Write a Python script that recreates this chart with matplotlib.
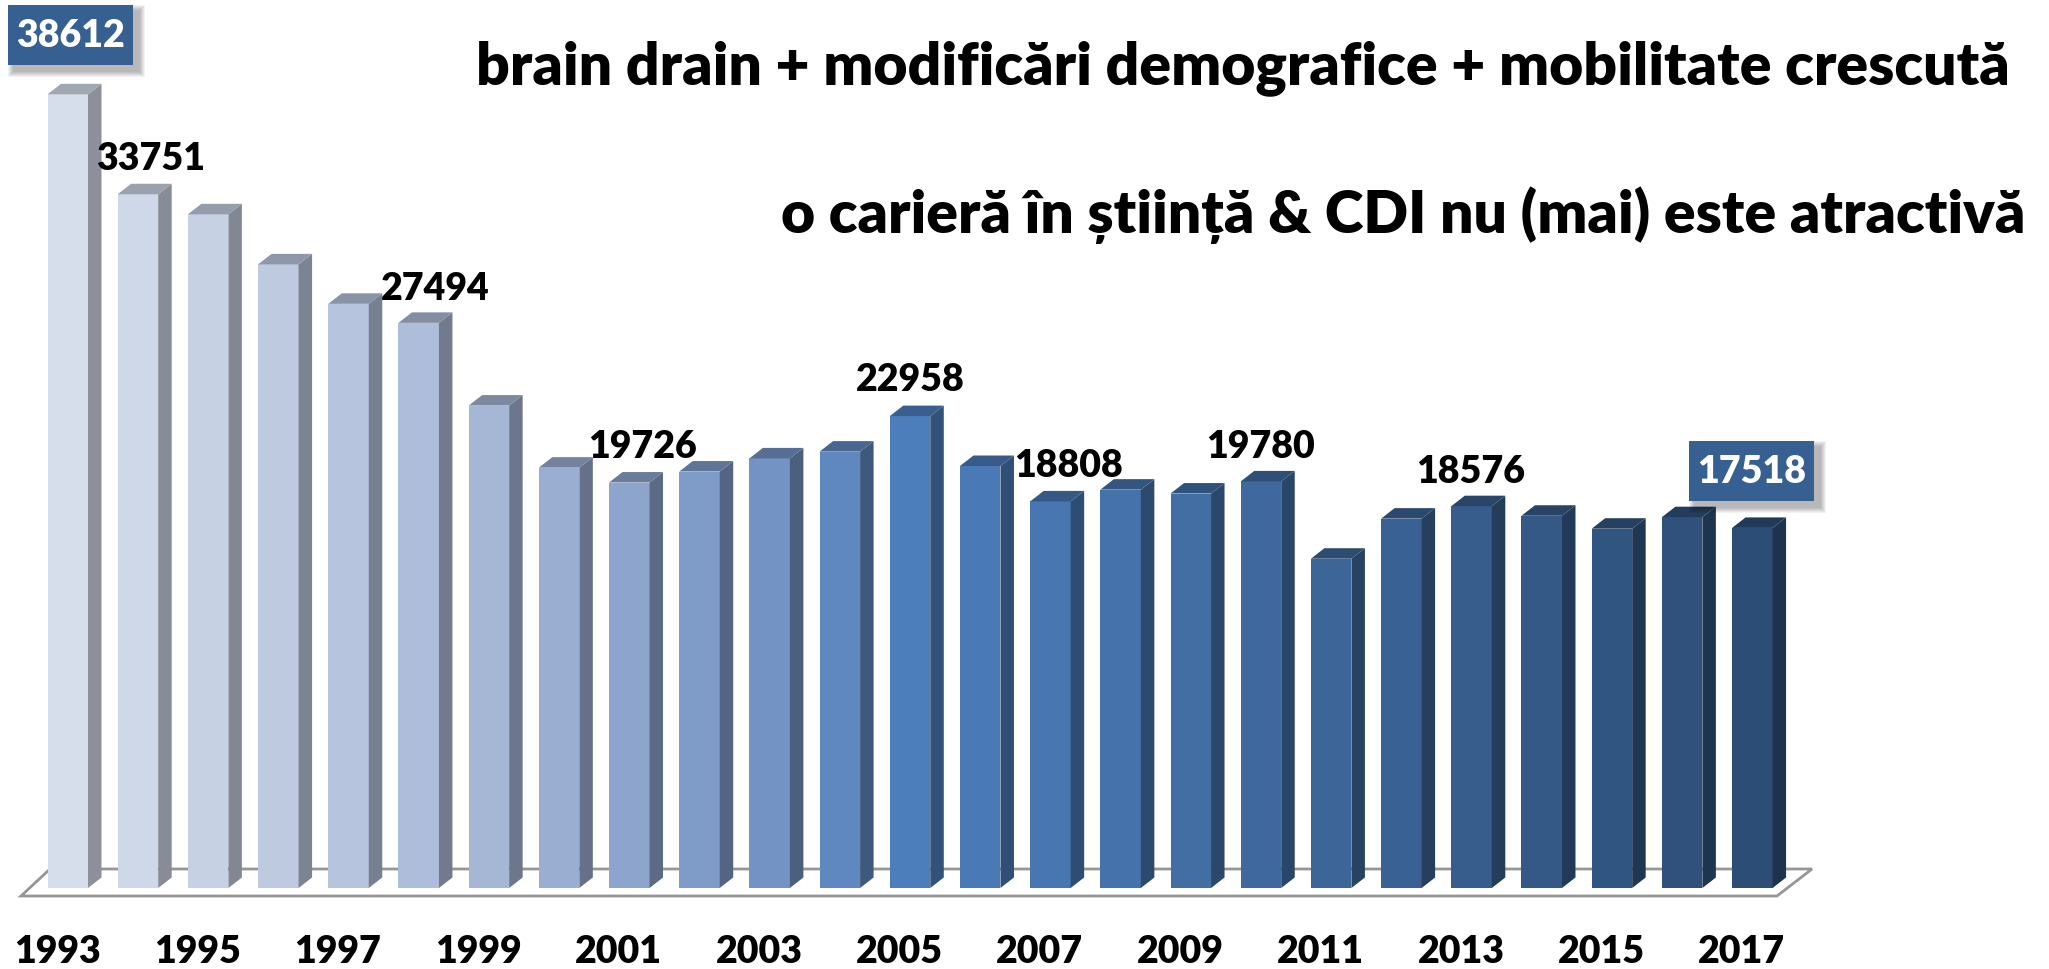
import numpy as np
import matplotlib
matplotlib.use("Agg")
import matplotlib.pyplot as plt
from matplotlib.colors import LinearSegmentedColormap, to_rgb
from matplotlib.patches import Polygon, Rectangle
from matplotlib.transforms import Affine2D

years = list(range(1993, 2018))
values = [38612, 33751, 32775, 30340, 28420, 27494, 23470, 20450, 19726, 20260,
          20900, 21230, 22958, 20530, 18808, 19380, 19190, 19780, 16020, 17970,
          18576, 18110, 17480, 18040, 17518]

# plain labels (text, x px, y px), boxed labels (text, left px, top px)
plain_labels = [("33751", 151, 159), ("27494", 435, 289), ("19726", 643, 447),
                ("22958", 910, 380), ("18808", 1068, 466), ("19780", 1261, 447),
                ("18576", 1471, 472)]
boxed_labels = [("38612", 8, 6), ("17518", 1689, 442)]
title_lines = [("brain drain + modificări demografice + mobilitate crescută", 2010, 68),
               ("o carieră în știință & CDI nu (mai) este atractivă", 2025, 215)]

W, H = 2049, 970
FONT = "Lato"
WEIGHT = "heavy"
BOX_COLOR = "#366092"

plt.rcParams["font.family"] = [FONT, "DejaVu Sans"]

fig = plt.figure(figsize=(W / 100, H / 100), dpi=100, facecolor="white")
base_y = 889
ax = fig.add_axes([0, (H - base_y) / H, 1, base_y / H])
ax.patch.set_alpha(0)
for s in ax.spines.values():
  s.set_visible(False)

# pixel coords, y going down like the reference
pix = Affine2D().scale(1, -1).translate(0, H)

step = 70.19
ax.set_xlim(-67.75 / step, (W - 67.75) / step)
y_per_px = 48.65
ax.set_ylim(0, base_y * y_per_px)
ax.set_yticks([])

cmap = LinearSegmentedColormap.from_list("bars", [(0, "#D7DEEB"), (6 / 24, "#A6B7D6"), (10 / 24, "#7393C4"),
                                                  (12 / 24, "#4D7EBC"), (1, "#2C4D75")])
x = np.arange(len(years))
colors = [cmap(i / (len(years) - 1)) for i in x]

# floor of the 3d chart, behind the bars
floor = Polygon([(21, 897), (1777, 897), (1812, 870), (50, 870)], closed=True, fill=False,
                edgecolor="#969696", linewidth=2.0, transform=pix, zorder=1, clip_on=False)
ax.add_patch(floor)

bar_w = 40.5 / step
dx = 13.5 / step
dy = 10.5 * y_per_px

ax.bar(x, values, width=bar_w, color=colors, zorder=3, clip_on=False)
for xi, v, c in zip(x, values, colors):
  r, g, b = to_rgb(c)
  left = xi - bar_w / 2
  right = xi + bar_w / 2
  side = (r * 0.65, g * 0.65, b * 0.65)
  top = (r * 0.75, g * 0.75, b * 0.75)
  ax.add_patch(Polygon([(right, 0), (right + dx, dy), (right + dx, v + dy), (right, v)],
                       closed=True, facecolor=side, edgecolor="none", zorder=3))
  ax.add_patch(Polygon([(left, v), (right, v), (right + dx, v + dy), (left + dx, v + dy)],
                       closed=True, facecolor=top, edgecolor="none", zorder=3))

tick_pos = x[::2] - 0.15
ax.set_xticks(tick_pos)
ax.set_xticklabels([str(y) for y in years[::2]], fontsize=27, fontweight=WEIGHT, color="black")
ax.tick_params(axis="x", length=0, pad=33)

for txt, px, py in plain_labels:
  fig.text(px, py, txt, transform=pix, ha="center", va="center", fontsize=27,
           fontweight=WEIGHT, color="black", zorder=6)

for txt, left, top in boxed_labels:
  # soft shadow from stacked faint rectangles
  for grow in range(6, 0, -1):
    fig.add_artist(Rectangle((left + 6 - grow, top + 6 - grow), 125 + 2 * grow, 60 + 2 * grow,
                             facecolor="black", alpha=0.05, edgecolor="none",
                             transform=pix, zorder=5))
  fig.add_artist(Rectangle((left, top), 125, 60, facecolor=BOX_COLOR, edgecolor="none",
                           transform=pix, zorder=5))
  fig.text(left + 62.5, top + 30, txt, transform=pix, ha="center", va="center", fontsize=27,
           fontweight=WEIGHT, color="white", zorder=6)

for txt, px, py in title_lines:
  fig.text(px, py, txt, transform=pix, ha="right", va="center", fontsize=42.4,
           fontweight=WEIGHT, color="black", zorder=6)

fig.savefig("out.png", dpi=100)
